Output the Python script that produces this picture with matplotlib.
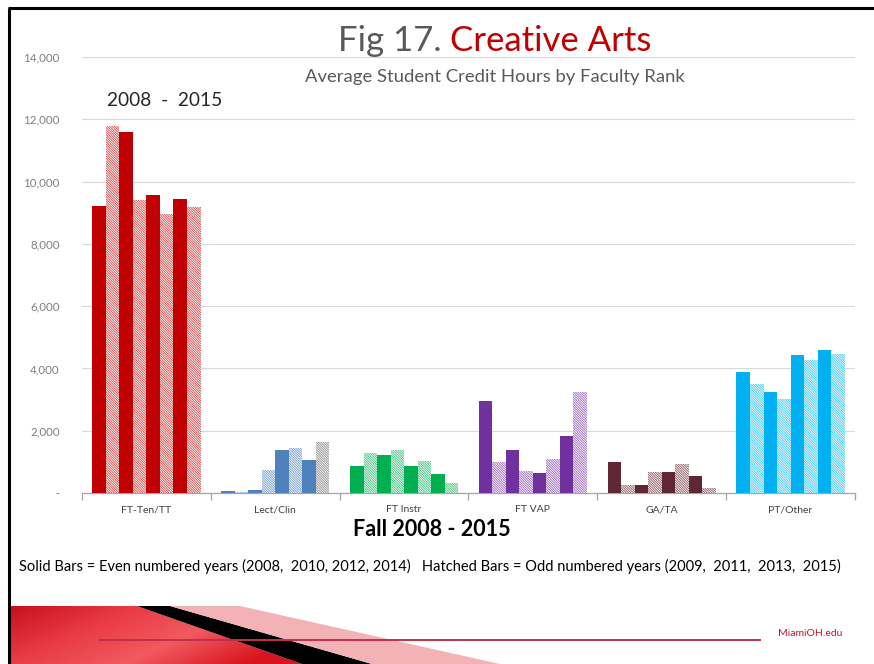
import matplotlib
matplotlib.use("Agg")
import matplotlib.pyplot as plt
from matplotlib.patches import Polygon
from matplotlib.colors import LinearSegmentedColormap
import numpy as np

# ---------------- data ----------------
categories = ["FT-Ten/TT", "Lect/Clin", "FT Instr", "FT VAP", "GA/TA", "PT/Other"]
years = [2008, 2009, 2010, 2011, 2012, 2013, 2014, 2015]
ft_ten_tt = [9230, 11790, 11600, 9420, 9580, 8970, 9450, 9170]
lect_clin = [70, 40, 110, 750, 1390, 1450, 1070, 1630]
ft_instr = [880, 1290, 1230, 1380, 880, 1040, 600, 310]
ft_vap = [2940, 1000, 1390, 720, 640, 1100, 1830, 3230]
ga_ta = [1000, 270, 270, 680, 680, 920, 560, 150]
pt_other = [3880, 3510, 3230, 3030, 4440, 4260, 4580, 4460]
yticks = [0, 2000, 4000, 6000, 8000, 10000, 12000, 14000]
ytick_labels = ["-", "2,000", "4,000", "6,000", "8,000", "10,000", "12,000", "14,000"]

series = [ft_ten_tt, lect_clin, ft_instr, ft_vap, ga_ta, pt_other]
colors = ["#C00000", "#4F81BD", "#00B050", "#7030A0", "#5E2733", "#00B0F0"]
hatch_colors = ["#D04848", "#6F99CC", "#3CC07A", "#9A66C0", "#8A5560", "#3CC4F4"]

W, H = 874, 664
DPI = 100
plt.rcParams['hatch.linewidth'] = 0.6
fig = plt.figure(figsize=(W / DPI, H / DPI), dpi=DPI)
fig.patch.set_facecolor("white")

FONT = ["Lato", "DejaVu Sans"]

# ---------- decoration layer (pixel coords) ----------
deco = fig.add_axes([0, 0, 1, 1], zorder=0)
deco.set_xlim(0, W)
deco.set_ylim(H, 0)
deco.axis("off")
deco.plot([9, 9], [8, H], color="black", lw=2.2, solid_capstyle="butt")
deco.plot([8, W], [8, 8], color="black", lw=2.2, solid_capstyle="butt")
red_poly = Polygon([(10, 606), (137, 606), (302, 664), (10, 664)], closed=True,
                   facecolor="none", edgecolor="none")
deco.add_patch(red_poly)
cmap = LinearSegmentedColormap.from_list("redgrad", ["#C8101E", "#E83A44", "#F25A60", "#D8151F"])
gx = np.linspace(0, 1, 200)
gy = np.linspace(0, 1, 30)
grad = np.clip(gx[None, :] * 0.8 + gy[:, None] * 0.35, 0, 1)
im = deco.imshow(grad, extent=(10, 302, 664, 606), cmap=cmap, aspect="auto",
                 interpolation="bilinear", zorder=1)
im.set_clip_path(red_poly)
deco.add_patch(Polygon([(137, 606), (170, 606), (372, 664), (302, 664)], closed=True,
                       facecolor="black", edgecolor="none", zorder=2))
deco.add_patch(Polygon([(170, 606), (240, 606), (500, 664), (372, 664)], closed=True,
                       facecolor="#F3B3B6", edgecolor="none", zorder=2))
deco.plot([100, 760], [640, 640], color="#C0304A", lw=1.4, zorder=3)
deco.text(810, 633, "MiamiOH.edu", color="#C0142B", fontsize=7.5, family=FONT,
          ha="center", va="center")
deco.set_xlim(0, W)
deco.set_ylim(H, 0)

# ---------- chart ----------
left, right = 82 / W, 855 / W
bottom, top = 1 - 493 / H, 1 - 57 / H
ax = fig.add_axes([left, bottom, right - left, top - bottom], zorder=2)
ax.patch.set_alpha(0)

n = len(years)
bw = 0.105
x = np.arange(len(categories))
for ci, vals in enumerate(series):
    for yi, v in enumerate(vals):
        xpos = x[ci] + (yi - (n - 1) / 2) * bw
        if years[yi] % 2 == 0:
            ax.bar(xpos, v, width=bw, color=colors[ci], edgecolor="none", zorder=3)
        else:
            hc = hatch_colors[ci]
            if ci == 1 and years[yi] == 2015:
                hc = "#8C8C8C"
            ax.bar(xpos, v, width=bw, facecolor="white", edgecolor=hc, linewidth=0,
                   hatch="\\" * 14, zorder=3)

ax.set_xlim(-0.5, len(categories) - 0.5)
ax.set_ylim(0, 14000)
ax.set_yticks(yticks)
ax.set_yticklabels(ytick_labels, family=FONT)
ax.yaxis.grid(True, color="#D9D9D9", lw=0.8)
ax.set_axisbelow(True)
for s in ["left", "right", "top"]:
    ax.spines[s].set_visible(False)
ax.spines["bottom"].set_color("#A6A6A6")
ax.spines["bottom"].set_linewidth(0.9)
ax.tick_params(axis="y", length=0, pad=16, labelsize=8.3, labelcolor="#7F7F7F")
ax.set_xticks(np.arange(len(categories) + 1) - 0.5)
ax.set_xticklabels([])
ax.tick_params(axis="x", which="major", length=5, color="#A6A6A6", width=0.9)
ax.set_xticks(x, minor=True)
ax.set_xticklabels(categories, minor=True, family=FONT, fontsize=7.5, color="#404040")
ax.tick_params(axis="x", which="minor", length=0, pad=9)

# ---------- texts ----------
def fx(px):
    return px / W

def fy(py):
    return 1 - py / H

fig.text(fx(450), fy(41), "Fig 17. ", ha="right", va="center", fontsize=25,
         color="#595959", family=FONT)
fig.text(fx(450), fy(41), "Creative Arts", ha="left", va="center", fontsize=25,
         color="#C00000", family=FONT)
fig.text(fx(495), fy(77), "Average Student Credit Hours by Faculty Rank", ha="center",
         va="center", fontsize=13.3, color="#595959", family=FONT)
fig.text(fx(107), fy(101), "2008  -  2015", ha="left", va="center", fontsize=13.8,
         color="#262626", family=FONT)
fig.text(fx(432), fy(530), "Fall 2008 - 2015", ha="center", va="center", fontsize=15.5,
         fontweight="bold", color="black", family=FONT)
fig.text(fx(430), fy(566),
         "Solid Bars = Even numbered years (2008,  2010, 2012, 2014)   Hatched Bars = Odd numbered years (2009,  2011,  2013,  2015)",
         ha="center", va="center", fontsize=10.55, color="black", family=FONT)

fig.savefig("out.png", dpi=DPI, facecolor="white")
